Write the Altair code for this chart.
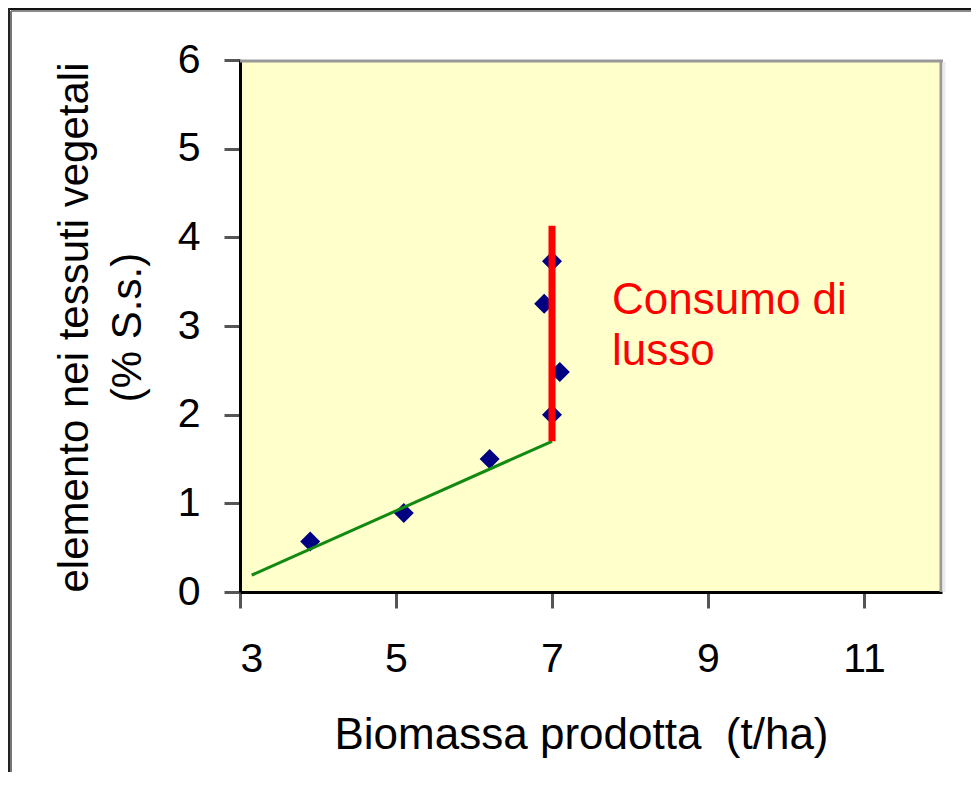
import altair as alt
import pandas as pd

# ---- data ----
biomassa = [3.9, 5.1, 6.2, 6.9, 7.0, 7.1, 7.0]          # t/ha
elemento = [0.57, 0.89, 1.50, 3.25, 3.73, 2.48, 2.00]   # % s.s.

linea_x = [3.15, 7.0]      # green fitted segment
linea_y = [0.19, 1.70]

lusso_x = 7.0              # red vertical "luxury consumption" segment
lusso_y0 = 1.70
lusso_y1 = 4.13

x_ticks = [3, 5, 7, 9, 11]
y_ticks = [0, 1, 2, 3, 4, 5, 6]

annot_text = ["Consumo di", "lusso"]
annot_x = [7.77, 7.77]
annot_y = [3.14, 2.56]

FONT = "Liberation Sans"
W, H = 702, 532

pts = pd.DataFrame({"x": biomassa, "y": elemento})
green = pd.DataFrame({"x": linea_x, "y": linea_y})
red = pd.DataFrame({"x": [lusso_x], "y": [lusso_y0], "y2": [lusso_y1]})
ann = pd.DataFrame({"t": annot_text, "x": annot_x, "y": annot_y})
one = alt.Data(values=[{}])

xscale = alt.Scale(domain=[3, 12], nice=False, zero=False)
yscale = alt.Scale(domain=[0, 6], nice=False)

xaxis = alt.Axis(
    values=x_ticks, format="d", title="Biomassa prodotta\u00a0\u00a0(t/ha)", grid=False,
    titleX=341, titleY=156, titleBaseline="alphabetic", titleAlign="center",
    titleFontSize=44, labelPadding=31,
)
yaxis = alt.Axis(
    values=y_ticks, format="d", title=["elemento nei tessuti vegetali", "(% S.s.)"], grid=False,
    titleX=-153, titleY=267, titleAngle=270, titleAlign="center",
    titleBaseline="alphabetic", titleLineHeight=53, labelPadding=24,
)

X = alt.X("x:Q", scale=xscale, axis=xaxis)
Y = alt.Y("y:Q", scale=yscale, axis=yaxis)

points = alt.Chart(pts).mark_point(
    shape="diamond", filled=True, size=400, color="#000080", opacity=1
).encode(x=X, y=Y)

gline = alt.Chart(green).mark_line(color="#128a12", strokeWidth=3).encode(x="x:Q", y="y:Q")

rline = alt.Chart(red).mark_rule(color="#ff0000", strokeWidth=7).encode(
    x="x:Q", y="y:Q", y2="y2:Q"
)

labels = alt.Chart(ann).mark_text(
    font=FONT, fontSize=44, color="#ff0000", align="left", baseline="alphabetic"
).encode(x="x:Q", y="y:Q", text="t:N")

# plot-area border (top and right in gray, with a light shadow on the right)
top_border = alt.Chart(one).mark_rule(color="#999999", strokeWidth=3).encode(
    x=alt.value(0), x2=alt.value(W + 1), y=alt.value(1)
)
right_border = alt.Chart(one).mark_rule(color="#999999", strokeWidth=3).encode(
    x=alt.value(W - 1), y=alt.value(0), y2=alt.value(H)
)
right_shadow = alt.Chart(one).mark_rule(color="#ebebeb", strokeWidth=3).encode(
    x=alt.value(W + 2), y=alt.value(2), y2=alt.value(H)
)

# outer picture frame
frame_top_k = alt.Chart(one).mark_rule(color="#111111", strokeWidth=2).encode(
    x=alt.value(-232), x2=alt.value(740), y=alt.value(-51)
)
frame_top_g = alt.Chart(one).mark_rule(color="#8a8a8a", strokeWidth=2).encode(
    x=alt.value(-229), x2=alt.value(740), y=alt.value(-49)
)
frame_left_k = alt.Chart(one).mark_rule(color="#222222", strokeWidth=2).encode(
    x=alt.value(-231), y=alt.value(-52), y2=alt.value(730)
)
frame_left_g = alt.Chart(one).mark_rule(color="#777777", strokeWidth=2).encode(
    x=alt.value(-229), y=alt.value(-49), y2=alt.value(730)
)

chart = alt.layer(
    points, gline, rline, labels,
    top_border, right_border, right_shadow,
    frame_top_k, frame_top_g, frame_left_k, frame_left_g,
).properties(
    width=W, height=H,
    autosize="none",
    padding={"left": 232, "top": 52, "right": 29, "bottom": 180},
    background="white",
).configure_view(
    fill="#ffffcc", stroke=None,
).configure_axis(
    labelFont=FONT, titleFont=FONT, labelFontSize=41, titleFontSize=42,
    labelColor="black", titleColor="black", titleFontWeight="normal",
    domainColor="black", domainWidth=3,
    tickColor="#555555", tickWidth=3, tickSize=16,
)

chart.save("out.html", embed_options={"renderer": "svg", "actions": False})
